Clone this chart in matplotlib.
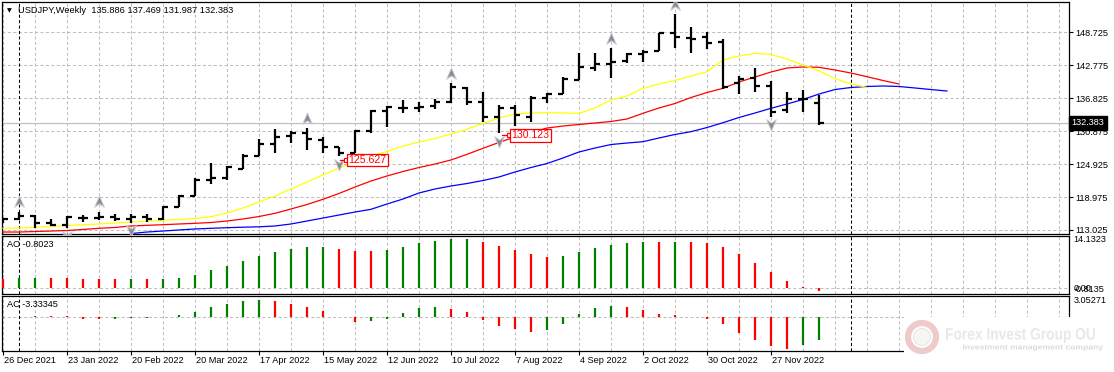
import numpy as np
import matplotlib
matplotlib.use("Agg")
import matplotlib.pyplot as plt
import matplotlib.transforms as mtransforms
from matplotlib.path import Path
from matplotlib.patches import Rectangle, Ellipse, PathPatch
from matplotlib.textpath import TextPath
from matplotlib.font_manager import FontProperties

W, H = 1114, 372
FONT = "Liberation Sans"

# weekly bars, 26 Dec 2021 ... 18 Dec 2022
opens = [114.40, 115.10, 115.60, 114.25, 113.90, 115.20, 115.25, 115.40, 115.00, 115.40,
         115.00, 117.25, 119.20, 122.05, 122.50, 124.05, 126.40, 128.60, 130.00, 130.50,
         129.30, 128.00, 127.00, 130.90, 134.55, 135.10, 135.00, 135.40, 136.20, 138.60,
         136.20, 133.40, 135.00, 133.50, 136.90, 137.55, 140.10, 142.20, 143.00, 143.60,
         144.80, 145.35, 148.55, 147.70, 147.90, 147.00, 139.50, 140.40, 139.00, 134.70,
         136.60, 135.886]
highs = [115.20, 116.33, 115.75, 115.10, 115.60, 115.70, 116.30, 115.85, 116.00, 115.85,
         117.35, 119.35, 122.50, 125.10, 124.60, 126.70, 129.40, 131.30, 130.90, 131.40,
         129.85, 128.10, 131.00, 134.65, 135.40, 136.50, 136.20, 136.60, 139.50, 138.90,
         138.00, 135.60, 135.60, 137.20, 137.80, 140.70, 145.05, 144.95, 145.80, 144.95,
         145.50, 148.65, 152.00, 149.75, 148.85, 147.45, 140.85, 142.20, 139.95, 138.00,
         138.30, 137.469]
lows = [114.30, 114.85, 113.45, 113.75, 113.40, 114.50, 114.85, 114.70, 114.35, 114.55,
        114.85, 117.20, 119.15, 121.35, 122.05, 124.00, 126.35, 126.90, 128.75, 127.50,
        127.00, 126.30, 126.90, 130.60, 131.55, 134.20, 134.40, 134.80, 136.00, 135.60,
        132.55, 130.50, 131.80, 132.55, 135.90, 137.50, 140.10, 141.75, 140.40, 143.10,
        143.40, 145.35, 145.95, 145.05, 145.65, 138.45, 137.60, 138.00, 133.50, 134.10,
        134.40, 131.987]
closes = [115.05, 115.50, 114.30, 113.90, 115.35, 115.20, 115.40, 115.00, 115.45, 115.00,
          117.25, 119.20, 122.05, 122.40, 124.35, 126.40, 128.55, 129.80, 130.60, 129.40,
          128.05, 127.00, 130.90, 134.55, 135.30, 135.00, 135.20, 136.20, 138.90, 136.20,
          133.40, 135.10, 133.80, 136.90, 137.60, 140.25, 142.50, 143.00, 143.40, 144.75,
          145.10, 148.65, 147.90, 147.60, 146.85, 138.80, 140.25, 139.05, 134.40, 136.70,
          136.65, 132.383]

# alligator lines (they run past the last bar)
lips = [113.33, 113.39, 113.51, 113.66, 113.84, 113.96, 114.11, 114.29, 114.47, 114.60,
        114.78, 114.92, 115.10, 115.43, 116.09, 117.00, 118.08, 119.16, 120.43, 121.69,
        122.96, 124.22, 125.31, 126.39, 127.20, 128.19, 128.91, 129.55, 130.36, 131.26,
        132.26, 133.25, 133.97, 134.15, 134.21, 134.15, 134.10, 135.06, 136.50, 137.22,
        138.61, 139.39, 140.02, 140.83, 141.61, 143.72, 144.44, 144.93, 144.72, 143.90,
        142.82, 141.74, 140.38, 139.39, 138.76]
teeth = [112.66, 112.66, 112.75, 112.84, 112.93, 113.12, 113.33, 113.48, 113.75, 113.87,
         113.98, 114.11, 114.23, 114.38, 114.65, 115.01, 115.46, 116.04, 116.82, 117.63,
         118.57, 119.62, 120.79, 121.87, 122.78, 123.59, 124.31, 124.94, 125.67, 126.69,
         127.78, 128.84, 129.82, 130.63, 131.44, 131.80, 132.08, 132.35, 132.62, 133.07,
         134.10, 135.06, 135.87, 136.95, 137.85, 138.61, 139.75, 140.65, 141.55, 142.28,
         142.46, 142.40, 141.92, 141.37, 140.71, 140.02, 139.39]
jaw_start = 8
jaw = [112.39, 112.66, 112.84, 113.03, 113.21, 113.33, 113.44, 113.53, 113.60, 113.75,
       114.11, 114.65, 115.19, 115.73, 116.27, 116.76, 117.72, 118.62, 119.71, 120.43,
       120.97, 121.42, 121.96, 122.60, 123.50, 124.31, 125.03, 126.03, 127.11, 127.83,
       128.46, 128.73, 128.97, 129.64, 130.27, 130.78, 131.53, 132.40, 133.34, 134.15,
       135.00, 135.78, 136.59, 137.58, 138.39, 138.76, 138.94, 139.03, 138.94, 138.67,
       138.39, 138.12]

up_fractals = [1, 6, 19, 28, 38, 42]
down_fractals = [4, 8, 21, 31, 48]

ao = [2.49, 2.67, 2.72, 2.68, 2.64, 2.60, 2.50, 2.45, 2.48, 2.44,
      2.50, 2.75, 3.56, 4.89, 5.96, 7.30, 8.72, 9.71, 10.51, 11.04,
      11.10, 10.51, 9.97, 9.90, 10.24, 11.04, 12.11, 12.65, 13.18, 13.25,
      12.38, 11.31, 10.24, 9.17, 8.37, 8.64, 9.71, 10.78, 11.58, 12.11,
      12.45, 12.38, 12.42, 12.35, 12.11, 11.04, 9.17, 6.76, 4.36, 1.95,
      0.35, -0.8023]
ao_dir = "RGGRRRRRGRGGGGGGGGGGGRRRGGGGGGRRRRRGGGGGGRGRRRRRRRRR"

ac = [-0.15, 0.05, 0.20, 0.15, 0.15, -0.20, -0.25, -0.20, -0.05, -0.05,
      0.05, 0.35, 0.80, 1.53, 1.98, 2.42, 2.57, 2.42, 1.98, 1.53,
      0.94, 0.05, -0.69, -0.62, -0.25, 0.64, 1.38, 1.53, 1.23, 0.79,
      -0.40, -1.28, -1.73, -2.17, -1.88, -0.99, 0.49, 1.38, 1.68, 1.53,
      1.09, 0.49, 0.35, 0.10, -0.25, -0.99, -2.32, -3.36, -4.25, -4.69,
      -4.10, -3.33345]
ac_dir = "GGGRRRRGGGGGGGGGGRRRRRRGGGGGRRRRRRGGGGGRRRRRRRRRRRGG"

price_ticks = [148.725, 142.775, 136.825, 130.875, 124.925, 118.975, 113.025]
date_labels = ["26 Dec 2021", "23 Jan 2022", "20 Feb 2022", "20 Mar 2022", "17 Apr 2022",
               "15 May 2022", "12 Jun 2022", "10 Jul 2022", "7 Aug 2022", "4 Sep 2022",
               "2 Oct 2022", "30 Oct 2022", "27 Nov 2022"]
title = "USDJPY,Weekly  135.886 137.469 131.987 132.383"
notes = [(21.5, 21.06, 125.627), (31.69, 31.2, 130.123)]
vlines_at = [1, 53]

GRID = "#c0c0c0"
UP, DN = "#008000", "#ff0000"


def px_axes(fig, x0, y0, x1, y1):
    return fig.add_axes([x0 / W, 1 - y1 / H, (x1 - x0) / W, (y1 - y0) / H])


def frame(ax):
    ax.set_xlim((1.5 - 3) / 16, (1069 - 3) / 16)
    ax.set_facecolor("white")
    for s in ax.spines.values():
        s.set_linewidth(0.9)
        s.set_color("black")
    for g in range(0, 67, 2):
        ax.axvline(g, color=GRID, lw=0.75, ls=(0, (3, 2.2)), zorder=0)
    for v in vlines_at:
        ax.axvline(v, color="black", lw=0.75, ls=(0, (3, 2.2)), zorder=1)
    ax.tick_params(left=False, labelleft=False, bottom=False, labelbottom=False)


def fractal_marker():
    verts = [(0, 1), (0.75, -0.75), (0, -0.2), (-0.75, -0.75), (0, 1)]
    codes = [Path.MOVETO, Path.LINETO, Path.LINETO, Path.LINETO, Path.CLOSEPOLY]
    return Path(verts, codes)


def squeezed_text(fig, txt, x0, y0, w, h, color, weight="bold"):
    # text drawn as a path, stretched into a box given in pixels
    tp = TextPath((0, 0), txt, size=1, prop=FontProperties(family=FONT, weight=weight))
    ext = tp.get_extents()
    tr = (mtransforms.Affine2D()
          .translate(-ext.x0, -ext.y0)
          .scale(w / W / ext.width, h / H / ext.height)
          .translate(x0 / W, 1 - y0 / H)
          + fig.transFigure)
    fig.patches.append(PathPatch(tp, transform=tr, fc=color, ec="none", zorder=12))


def main():
    fig = plt.figure(figsize=(W / 100, H / 100), dpi=100)
    fig.patch.set_facecolor("white")

    ax = px_axes(fig, 1.5, 2, 1069, 233.5)
    ao_ax = px_axes(fig, 1.5, 235.5, 1069, 294)
    ac_ax = px_axes(fig, 1.5, 296, 1069, 351.3)
    for a in (ax, ao_ax, ac_ax):
        frame(a)

    # --- price pane
    ax.set_ylim(112.393, 154.195)
    for p in price_ticks:
        ax.axhline(p, color=GRID, lw=0.75, ls=(0, (3, 2.2)), zorder=0)
    ax.axhline(closes[-1], color="#c0c0c0", lw=0.9, zorder=1)

    x = np.arange(len(closes))
    ax.vlines(x, lows, highs, color="black", lw=1.6, capstyle="butt", zorder=4)
    ax.hlines(opens, x - 0.3, x, color="black", lw=1.6, capstyle="butt", zorder=4)
    ax.hlines(closes, x, x + 0.3, color="black", lw=1.6, capstyle="butt", zorder=4)

    ax.plot(np.arange(len(jaw)) + jaw_start, jaw, color="#0000ff", lw=0.9, zorder=3)
    ax.plot(np.arange(len(teeth)), teeth, color="#ff0000", lw=0.9, zorder=3)
    ax.plot(np.arange(len(lips)), lips, color="#ffff00", lw=0.9, zorder=3)

    mk = fractal_marker()
    up_tr = mtransforms.offset_copy(ax.transData, fig=fig, y=6.8, units="points")
    dn_tr = mtransforms.offset_copy(ax.transData, fig=fig, y=-5.5, units="points")
    ax.scatter(up_fractals, [highs[i] for i in up_fractals], marker=mk, s=85,
               c="#8a8a8a", edgecolors="#c8c8d8", linewidths=0.7, transform=up_tr, zorder=5)
    dn_mk = Path(mk.vertices * [1, -1], mk.codes)
    ax.scatter(down_fractals, [lows[i] for i in down_fractals], marker=dn_mk, s=85,
               c="#8a8a8a", edgecolors="#c8c8d8", linewidths=0.7, transform=dn_tr, zorder=5)

    for kb, ks, val in notes:
        ax.plot([ks, kb], [val, val], color="red", lw=0.9, zorder=6)
        ax.plot([kb - 0.05], [val], marker="s", ms=2.5, mfc="white", mec="red", mew=0.8, zorder=7)
        ax.text(kb + 0.1, val, f"{val:.3f}", color="red", fontsize=7.6, family=FONT,
                ha="left", va="center", zorder=7,
                bbox=dict(boxstyle="square,pad=0.12", fc="white", ec="red", lw=0.9))

    ax.yaxis.tick_right()
    ax.set_yticks(price_ticks)
    ax.set_yticklabels([f"{p:.3f}" for p in price_ticks])
    ax.tick_params(axis="y", right=True, labelright=True, direction="out", length=3,
                   width=0.8, pad=1.5, labelsize=6.6)
    for t in ax.get_yticklabels():
        t.set_family(FONT)

    rt = mtransforms.blended_transform_factory(ax.transAxes, ax.transData)
    ax.text(1.0025, closes[-1], f"{closes[-1]:.3f}", transform=rt, color="white",
            fontsize=6.6, family=FONT, ha="left", va="center", zorder=8,
            bbox=dict(boxstyle="square,pad=0.25", fc="black", ec="black"))

    ax.text(0.0055, 0.962, "\u25bc", transform=ax.transAxes, fontsize=4.5,
            family="DejaVu Sans", ha="left", va="center")
    ax.text(0.0155, 0.962, title, transform=ax.transAxes, fontsize=6.7, family=FONT,
            ha="left", va="center")

    # --- awesome oscillator
    ao_ax.set_ylim(-1.52, 14.1323)
    ao_ax.axhline(0, color=GRID, lw=0.75, ls=(0, (3, 2.2)), zorder=0)
    ao_cols = [UP if d == "G" else DN for d in ao_dir]
    ao_ax.vlines(np.arange(len(ao)), 0, ao, colors=ao_cols, lw=1.6, capstyle="butt", zorder=3)
    ao_ax.text(0.005, 0.84, f"AO {ao[-1]:.4f}", transform=ao_ax.transAxes, fontsize=6.6,
               family=FONT, ha="left", va="center")
    rt = mtransforms.blended_transform_factory(ao_ax.transAxes, ao_ax.transData)
    ao_ax.text(1.004, 14.1323, "14.1323", transform=rt, fontsize=6.6, family=FONT,
               ha="left", va="top")
    ao_ax.text(1.004, 0, "0.00", transform=rt, fontsize=6.6, family=FONT,
               ha="left", va="center")
    ao_ax.text(1.004, -1.52, "-0.8135", transform=rt, fontsize=6.6, family=FONT,
               ha="left", va="bottom")

    # --- accelerator oscillator
    ac_ax.set_ylim(-5.04, 3.16)
    ac_ax.axhline(0, color=GRID, lw=0.75, ls=(0, (3, 2.2)), zorder=0)
    ac_cols = [UP if d == "G" else DN for d in ac_dir]
    ac_ax.vlines(np.arange(len(ac)), 0, ac, colors=ac_cols, lw=1.6, capstyle="butt", zorder=3)
    ac_ax.text(0.005, 0.84, f"AC {ac[-1]:.5f}", transform=ac_ax.transAxes, fontsize=6.6,
               family=FONT, ha="left", va="center")
    rt = mtransforms.blended_transform_factory(ac_ax.transAxes, ac_ax.transData)
    ac_ax.text(1.004, 3.16, "3.05271", transform=rt, fontsize=6.6, family=FONT,
               ha="left", va="top")

    date_pos = np.arange(len(date_labels)) * 4
    ac_ax.set_xticks(date_pos)
    ac_ax.tick_params(axis="x", bottom=True, direction="out", length=3, width=0.8,
                      labelbottom=False)
    bt = mtransforms.blended_transform_factory(ac_ax.transData, ac_ax.transAxes)
    for k, lab in zip(date_pos, date_labels):
        ac_ax.text(k + 0.04, -0.16, lab, transform=bt, fontsize=6.6, family=FONT,
                   ha="left", va="center")

    # --- watermark in the corner
    fig.patches.append(Rectangle((904 / W, 0), 210 / W, 55 / H, transform=fig.transFigure,
                                 fc="white", ec="none", zorder=10))
    fig.patches.append(Ellipse((922 / W, 1 - 337 / H), 28 / W, 28 / H,
                               transform=fig.transFigure, fc="none", ec="#efcaca",
                               lw=4.5, zorder=11))
    fig.patches.append(Ellipse((922 / W, 1 - 337 / H), 17 / W, 17 / H,
                               transform=fig.transFigure, fc="#f6f6f6", ec="#e2e2e2",
                               lw=0.6, zorder=11))
    squeezed_text(fig, "Forex Invest Group OU", 946, 343, 149, 15, "#e8e8e8")
    squeezed_text(fig, "Investment management company", 963, 351, 140, 6.5, "#dadada")

    fig.savefig("out.png", dpi=100, facecolor="white")


if __name__ == "__main__":
    main()
